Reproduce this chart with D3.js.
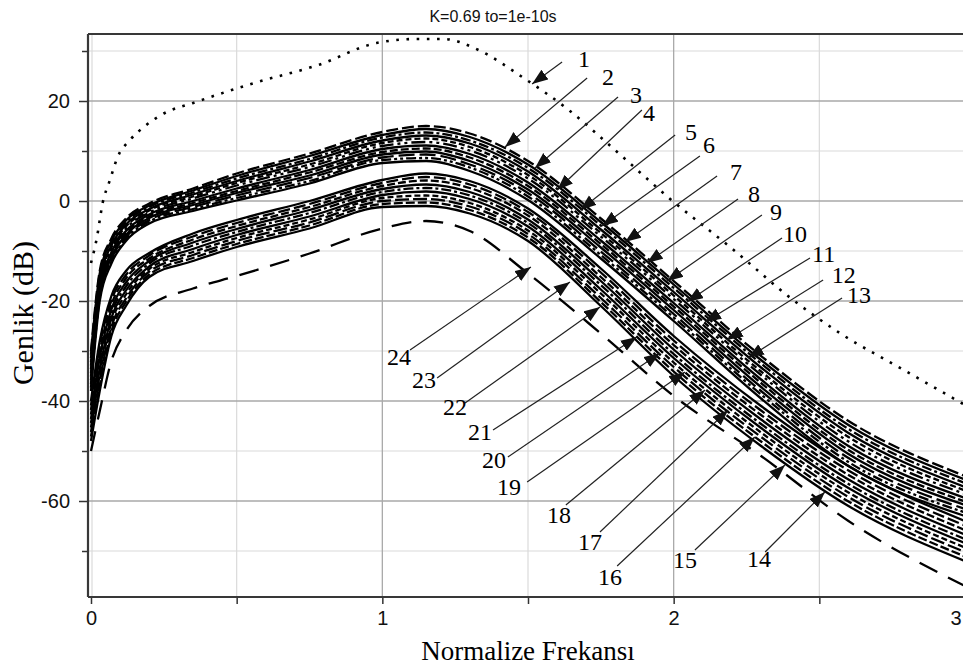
<!DOCTYPE html>
<html>
<head>
<meta charset="utf-8">
<script src="https://cdn.jsdelivr.net/npm/d3@7"></script>
<style>
  html, body { margin: 0; padding: 0; background: #fff; }
  svg { display: block; }
</style>
</head>
<body>
<svg id="chart" width="963" height="668"></svg>
<script>
// Normalized frequency grid shared by the filter responses
const freq = [0, 0.03, 0.07, 0.12, 0.2, 0.35, 0.5, 0.75, 1.0, 1.15, 1.3, 1.5, 1.75, 2.0, 2.3, 2.6, 3.0];

// Curve 1 (dotted reference response), own frequency grid
const refFreq = [0, 0.02, 0.04, 0.065, 0.09, 0.134, 0.19, 0.25, 0.36, 0.56, 0.78, 0.98, 1.12, 1.21, 1.33, 1.48, 1.64, 1.81, 1.98, 2.2, 2.41, 2.57, 2.79, 3.0];
const c1 = [-12.4, -7.4, -0.4, 4.2, 8.6, 12.2, 15.2, 17.5, 19.8, 23.6, 27.2, 31.6, 32.4, 32.4, 30.2, 24.8, 18.2, 9.6, 0.8, -9.5, -19.8, -26.4, -33.8, -40.8];

// Upper family (curves 2-13), gain in dB
const c2  = [-30.0, -14.0, -7.5, -3.5, -0.5, 2.5, 5.5, 9.5, 13.8, 15.0, 13.5, 8.0, -3.5, -16.0, -31.0, -44.0, -55.0];
const c3  = [-30.7, -14.5, -8.0, -3.9, -0.9, 2.1, 5.0, 9.0, 13.2, 14.4, 12.8, 7.3, -4.2, -16.7, -31.8, -44.8, -55.7];
const c4  = [-31.4, -15.1, -8.4, -4.3, -1.2, 1.7, 4.5, 8.4, 12.7, 13.7, 12.1, 6.6, -4.9, -17.4, -32.5, -45.6, -56.4];
const c5  = [-32.2, -15.6, -8.9, -4.7, -1.6, 1.3, 4.0, 7.9, 12.1, 13.1, 11.5, 5.9, -5.7, -18.2, -33.3, -46.4, -57.2];
const c6  = [-32.9, -16.2, -9.3, -5.1, -1.9, 0.9, 3.6, 7.3, 11.6, 12.5, 10.8, 5.2, -6.4, -18.9, -34.1, -47.2, -57.9];
const c7  = [-33.6, -16.7, -9.8, -5.5, -2.3, 0.5, 3.1, 6.8, 11.0, 11.8, 10.1, 4.5, -7.1, -19.6, -34.8, -48.1, -58.6];
const c8  = [-34.4, -17.3, -10.3, -6.0, -2.7, 0.0, 2.5, 6.2, 10.4, 11.1, 9.4, 3.7, -7.9, -20.4, -35.7, -49.0, -59.4];
const c9  = [-35.1, -17.8, -10.7, -6.4, -3.1, -0.4, 2.0, 5.7, 9.8, 10.5, 8.7, 3.0, -8.6, -21.1, -36.4, -49.8, -60.1];
const c10 = [-35.8, -18.4, -11.2, -6.8, -3.4, -0.8, 1.6, 5.1, 9.3, 9.9, 8.0, 2.3, -9.3, -21.8, -37.2, -50.6, -60.8];
const c11 = [-36.6, -18.9, -11.6, -7.2, -3.8, -1.2, 1.1, 4.6, 8.7, 9.3, 7.3, 1.6, -10.1, -22.6, -38.0, -51.4, -61.6];
const c12 = [-37.3, -19.5, -12.1, -7.6, -4.1, -1.6, 0.6, 4.0, 8.2, 8.6, 6.7, 0.9, -10.8, -23.3, -38.7, -52.2, -62.3];
const c13 = [-38.0, -20.0, -12.5, -8.0, -4.5, -2.0, 0.1, 3.5, 7.6, 8.0, 6.0, 0.2, -11.5, -24.0, -39.5, -53.0, -63.0];

// Lower family (curves 14-24), gain in dB
const c14 = [-40.0, -28.0, -19.0, -14.0, -10.4, -6.5, -3.8, 0.0, 4.2, 5.5, 4.0, -1.5, -13.5, -27.0, -41.0, -53.0, -64.0];
const c15 = [-40.9, -29.1, -19.9, -14.8, -10.9, -7.1, -4.4, -0.6, 3.6, 4.8, 3.3, -2.2, -14.3, -27.9, -41.9, -53.9, -64.9];
const c16 = [-41.8, -30.2, -20.8, -15.5, -11.5, -7.7, -5.0, -1.2, 3.0, 4.1, 2.6, -2.9, -15.2, -28.8, -42.8, -54.8, -65.8];
const c17 = [-42.7, -31.3, -21.7, -16.3, -12.0, -8.3, -5.6, -1.8, 2.4, 3.3, 1.8, -3.7, -16.0, -29.7, -43.7, -55.7, -66.7];
const c18 = [-43.6, -32.4, -22.6, -17.1, -12.5, -8.9, -6.2, -2.4, 1.8, 2.6, 1.1, -4.4, -16.8, -30.6, -44.6, -56.6, -67.6];
const c19 = [-44.4, -33.6, -23.4, -17.9, -13.1, -9.6, -6.8, -3.1, 1.2, 1.9, 0.4, -5.1, -17.7, -31.4, -45.4, -57.4, -68.4];
const c20 = [-45.3, -34.7, -24.3, -18.7, -13.6, -10.2, -7.4, -3.7, 0.6, 1.1, -0.4, -5.9, -18.5, -32.3, -46.3, -58.3, -69.3];
const c21 = [-46.2, -35.8, -25.2, -19.5, -14.1, -10.8, -8.0, -4.3, 0.0, 0.4, -1.1, -6.6, -19.4, -33.2, -47.2, -59.2, -70.2];
const c22 = [-47.1, -36.9, -26.1, -20.2, -14.7, -11.4, -8.6, -4.9, -0.6, -0.3, -1.8, -7.3, -20.2, -34.1, -48.1, -60.1, -71.1];
const c23 = [-48.0, -38.0, -27.0, -21.0, -15.2, -12.0, -9.2, -5.5, -1.2, -1.0, -2.5, -8.0, -21.0, -35.0, -49.0, -61.0, -72.0];
const c24 = [-50.0, -42.0, -32.0, -26.0, -21.0, -17.5, -15.0, -10.5, -5.5, -4.0, -6.0, -14.5, -26.5, -39.0, -51.0, -64.0, -77.0];

const responses = [c2, c3, c4, c5, c6, c7, c8, c9, c10, c11, c12, c13,
                   c14, c15, c16, c17, c18, c19, c20, c21, c22, c23, c24];

// Axis ticks
const yMajorTicks = [-60, -40, -20, 0, 20];
const yMinorTicks = [-70, -50, -30, -10, 10, 30];
const xMajorTicks = [0, 1, 2, 3];
const xMinorTicks = [0.5, 1.5, 2.5];

// Curve callouts: label, label anchor [freq, dB], leader start, arrow tip
const calloutLabels = ["1","2","3","4","5","6","7","8","9","10","11","12","13",
                       "14","15","16","17","18","19","20","21","22","23","24"];
const calloutText = [
  [1.672, 26.8], [1.754, 23.2], [1.850, 19.6], [1.895, 16.0], [2.039, 12.2], [2.101, 9.6],
  [2.193, 4.2], [2.255, -0.2], [2.331, -3.8], [2.375, -8.2], [2.475, -12.2], [2.543, -16.4],
  [2.595, -20.4], [2.252, -73.2], [1.998, -73.4], [1.740, -76.8], [1.672, -69.8], [1.565, -64.4],
  [1.394, -58.8], [1.342, -53.4], [1.294, -47.8], [1.208, -42.8], [1.102, -37.4], [1.016, -32.8]
];
const calloutFrom = [
  [1.617, 27.8], [1.703, 24.6], [1.809, 20.8], [1.891, 18.2], [2.005, 13.2], [2.090, 9.0],
  [2.149, 5.0], [2.221, 0.4], [2.303, -2.8], [2.372, -7.4], [2.468, -11.4], [2.513, -15.8],
  [2.578, -19.4], [2.314, -70.2], [2.073, -69.8], [1.806, -73.0], [1.747, -66.2], [1.630, -60.8],
  [1.497, -56.2], [1.431, -51.2], [1.380, -45.8], [1.284, -40.4], [1.188, -35.4], [1.095, -29.8]
];
const calloutTip = [
  [1.514, 23.4], [1.421, 10.8], [1.524, 6.6], [1.600, 2.2], [1.679, -1.8], [1.754, -5.0],
  [1.833, -8.2], [1.908, -12.4], [1.977, -16.0], [2.046, -20.2], [2.108, -24.2], [2.183, -27.8],
  [2.255, -31.4], [2.519, -58.2], [2.382, -52.8], [2.279, -47.2], [2.187, -41.8], [2.108, -37.8],
  [2.039, -34.2], [1.953, -30.4], [1.874, -27.2], [1.747, -21.2], [1.644, -16.2], [1.510, -13.2]
];

// Dash patterns for curves 2-24
const dashStyles = [
  "12,4", null, "10,3,3,3", null, "6,3", "14,4,3,4,3,4", null, "8,3", null, "16,5", "10,3,3,3,3,3", null,
  null, "12,4", "8,3", null, "10,3,3,3", null, "6,3", "14,4", "9,3", null, "20,12"
];

const svg = d3.select("#chart");
const W = 963, H = 668;
const pL = 88, pT = 34, pB = 597, pR = W;

const x = d3.scaleLinear().domain([0, 3]).range([91, 965]);
const y = d3.scaleLinear().domain([-79.2, 33.4]).range([pB, pT]);

svg.append("rect").attr("width", W).attr("height", H).attr("fill", "#fff");

const defs = svg.append("defs");
defs.append("clipPath").attr("id", "plotClip")
  .append("rect").attr("x", pL).attr("y", pT).attr("width", pR - pL).attr("height", pB - pT);

defs.append("marker")
  .attr("id", "arrowHead")
  .attr("markerUnits", "userSpaceOnUse")
  .attr("markerWidth", 17).attr("markerHeight", 13)
  .attr("refX", 16).attr("refY", 6)
  .attr("orient", "auto")
  .append("path").attr("d", "M0,0 L16,6 L0,12 Z").attr("fill", "#111");

// Grid
const grid = svg.append("g");
grid.selectAll("line.hmin").data(yMinorTicks).join("line")
  .attr("x1", pL).attr("x2", pR).attr("y1", d => y(d)).attr("y2", d => y(d))
  .attr("stroke", "#dadada").attr("stroke-width", 1.2);
grid.selectAll("line.vmin").data([0].concat(xMinorTicks)).join("line")
  .attr("x1", d => x(d) + (d === 0 ? 1 : 0)).attr("x2", d => x(d) + (d === 0 ? 1 : 0))
  .attr("y1", pT).attr("y2", pB)
  .attr("stroke", "#dadada").attr("stroke-width", 1.2);
grid.selectAll("line.hmaj").data(yMajorTicks).join("line")
  .attr("x1", pL).attr("x2", pR).attr("y1", d => y(d)).attr("y2", d => y(d))
  .attr("stroke", "#a9a9a9").attr("stroke-width", 1.3);
grid.selectAll("line.vmaj").data([1, 2]).join("line")
  .attr("x1", d => x(d)).attr("x2", d => x(d)).attr("y1", pT).attr("y2", pB)
  .attr("stroke", "#a9a9a9").attr("stroke-width", 1.3);

// Axes
const tickFont = "'Liberation Sans Narrow', 'Liberation Sans', Arial, sans-serif";
svg.append("g").attr("transform", `translate(${pL},0)`)
  .call(d3.axisLeft(y).tickValues(yMajorTicks).tickSize(9).tickPadding(9).tickFormat(d => String(d)));
svg.append("g").attr("transform", `translate(${pL},0)`)
  .call(d3.axisLeft(y).tickValues(yMinorTicks).tickSize(6).tickFormat(""));
const xAxisG = svg.append("g").attr("transform", `translate(0,${pB})`)
  .call(d3.axisBottom(x).tickValues(xMajorTicks.concat(xMinorTicks)).tickSize(7).tickPadding(7)
    .tickFormat(d => Number.isInteger(d) ? String(d) : ""));
svg.selectAll(".domain").remove();
svg.selectAll(".tick line").attr("stroke", "#333").attr("stroke-width", 1.5);
svg.selectAll(".tick text").attr("font-family", tickFont).attr("font-size", 20).attr("fill", "#111");
// the last label sits at the right edge of the page; keep it fully inside
xAxisG.selectAll(".tick text").filter(d => d === 3).attr("text-anchor", "end").attr("dx", -4);

// Frame
const frame = svg.append("g").attr("stroke", "#383838").attr("stroke-width", 2.2);
frame.append("line").attr("x1", pL).attr("x2", pR).attr("y1", pT).attr("y2", pT);
frame.append("line").attr("x1", pL).attr("x2", pL).attr("y1", pT).attr("y2", pB);
frame.append("line").attr("x1", pL).attr("x2", pR).attr("y1", pB).attr("y2", pB);

// Response curves
const plot = svg.append("g").attr("clip-path", "url(#plotClip)");
const line = d3.line().x(d => x(d[0])).y(d => y(d[1])).curve(d3.curveMonotoneX);

responses.forEach((vals, i) => {
  plot.append("path")
    .datum(freq.map((f, k) => [f, vals[k]]))
    .attr("d", line)
    .attr("fill", "none")
    .attr("stroke", "#000")
    .attr("stroke-width", 2.3)
    .attr("stroke-dasharray", dashStyles[i]);
});

plot.append("path")
  .datum(refFreq.map((f, k) => [f, c1[k]]))
  .attr("d", line)
  .attr("fill", "none")
  .attr("stroke", "#000")
  .attr("stroke-width", 2.6)
  .attr("stroke-dasharray", "2.6,7.6");

// Callouts
const callouts = svg.append("g");
calloutLabels.forEach((lab, i) => {
  callouts.append("line")
    .attr("x1", x(calloutFrom[i][0])).attr("y1", y(calloutFrom[i][1]))
    .attr("x2", x(calloutTip[i][0])).attr("y2", y(calloutTip[i][1]))
    .attr("stroke", "#222").attr("stroke-width", 1.2)
    .attr("marker-end", "url(#arrowHead)");
  callouts.append("text")
    .attr("x", x(calloutText[i][0])).attr("y", y(calloutText[i][1]))
    .attr("font-family", "'Liberation Serif', 'Times New Roman', serif")
    .attr("font-size", 24)
    .attr("fill", "#000")
    .text(lab);
});

// Titles
svg.append("text")
  .attr("x", 493).attr("y", 22).attr("text-anchor", "middle")
  .attr("font-family", "'Liberation Sans', Arial, sans-serif").attr("font-size", 16)
  .attr("fill", "#111")
  .text("K=0.69 to=1e-10s");

svg.append("text")
  .attr("x", 528).attr("y", 660).attr("text-anchor", "middle")
  .attr("font-family", "'Liberation Serif', 'Times New Roman', serif").attr("font-size", 27)
  .attr("fill", "#000")
  .text("Normalize Frekansı");

svg.append("text")
  .attr("transform", "translate(33,313) rotate(-90)")
  .attr("text-anchor", "middle")
  .attr("font-family", "'Liberation Serif', 'Times New Roman', serif").attr("font-size", 30)
  .attr("fill", "#000")
  .text("Genlik (dB)");
</script>
</body>
</html>
